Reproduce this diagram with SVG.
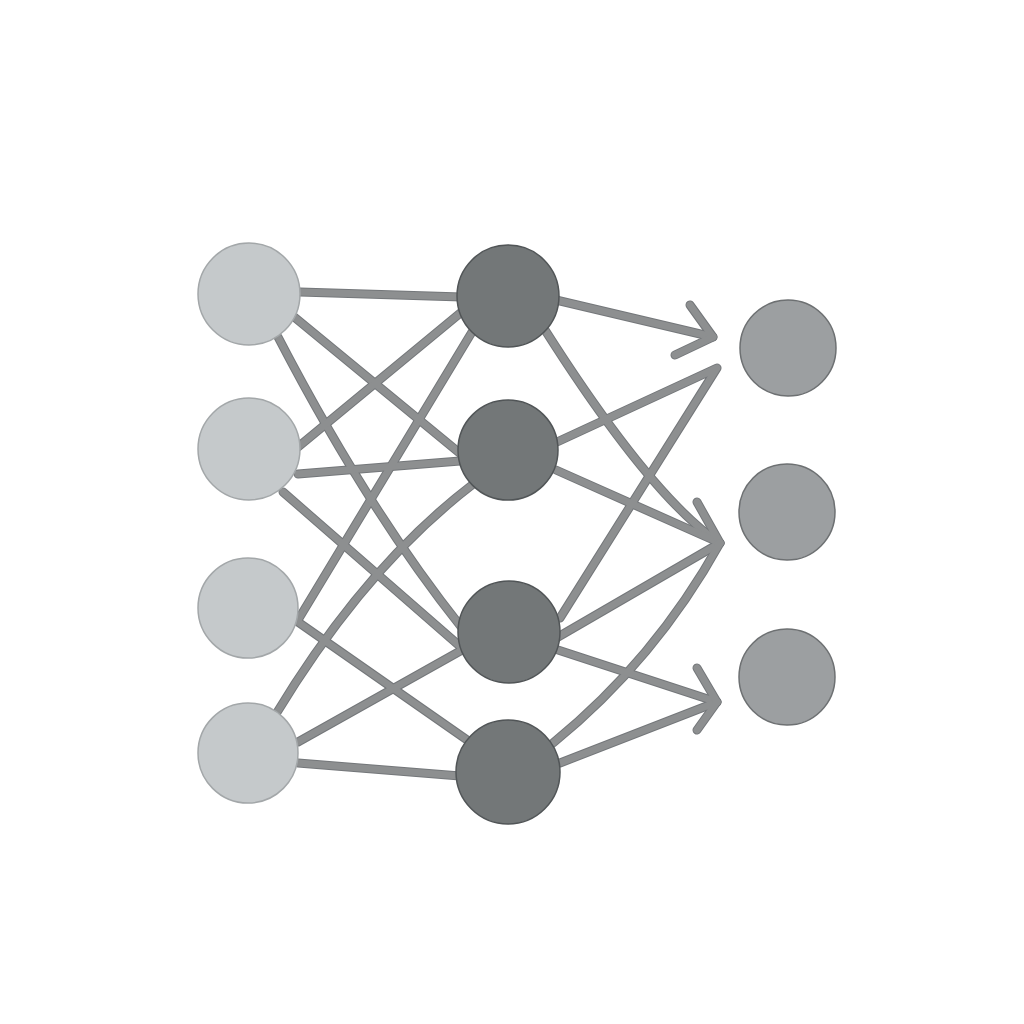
<svg xmlns="http://www.w3.org/2000/svg" xmlns:xlink="http://www.w3.org/1999/xlink" width="1024" height="1024" viewBox="0 0 1024 1024">
<style>
.edge-o{fill:none;stroke:#74777a;stroke-width:9;stroke-linecap:round;stroke-linejoin:round}
.edge-i{fill:none;stroke:#8d8f90;stroke-width:7;stroke-linecap:round;stroke-linejoin:round}
.in{fill:#c5c9cb;stroke:#a3a7a9;stroke-width:1.5}
.hid{fill:#737778;stroke:#515557;stroke-width:1.5}
.out{fill:#9c9fa1;stroke:#6d7072;stroke-width:1.5}
</style>
<defs>
<path id="e1" d="M300,292 L462,297"/>
<path id="e2" d="M293,316 L462,455"/>
<path id="e3" d="M278,337 Q368,510 462,628"/>
<path id="e4" d="M298,447 L464,310"/>
<path id="e5" d="M298,474 L460,461"/>
<path id="e6" d="M283,492 L462,648"/>
<path id="e7" d="M298,620 L472,332"/>
<path id="e8" d="M298,622 L470,742"/>
<path id="e9" d="M276,714 Q365,567 472,485"/>
<path id="e10" d="M298,742 L462,650"/>
<path id="e11" d="M298,763 L460,776"/>
<path id="e12" d="M556,300 L713,337"/>
<path id="e13" d="M690,305 L713,337 L675,355"/>
<path id="e14" d="M545,330 Q650,495 718,542"/>
<path id="e15" d="M557,442 L717,368 L560,618"/>
<path id="e16" d="M556,470 L720,543"/>
<path id="e17" d="M697,502 L720,543"/>
<path id="e18" d="M558,637 L720,543"/>
<path id="e19" d="M553,743 Q655,660 720,543"/>
<path id="e20" d="M558,650 L717,702"/>
<path id="e21" d="M560,763 L717,702"/>
<path id="e22" d="M697,668 L717,702 L697,730"/>
</defs>
<rect width="1024" height="1024" fill="#ffffff"/>
<g id="connectors">
<g class="edge-o">
<use xlink:href="#e1"/><use xlink:href="#e2"/><use xlink:href="#e3"/><use xlink:href="#e4"/><use xlink:href="#e5"/><use xlink:href="#e6"/><use xlink:href="#e7"/><use xlink:href="#e8"/><use xlink:href="#e9"/><use xlink:href="#e10"/><use xlink:href="#e11"/><use xlink:href="#e12"/><use xlink:href="#e13"/><use xlink:href="#e14"/><use xlink:href="#e15"/><use xlink:href="#e16"/><use xlink:href="#e17"/><use xlink:href="#e18"/><use xlink:href="#e19"/><use xlink:href="#e20"/><use xlink:href="#e21"/><use xlink:href="#e22"/>
</g>
<g class="edge-i">
<use xlink:href="#e1"/><use xlink:href="#e2"/><use xlink:href="#e3"/><use xlink:href="#e4"/><use xlink:href="#e5"/><use xlink:href="#e6"/><use xlink:href="#e7"/><use xlink:href="#e8"/><use xlink:href="#e9"/><use xlink:href="#e10"/><use xlink:href="#e11"/><use xlink:href="#e12"/><use xlink:href="#e13"/><use xlink:href="#e14"/><use xlink:href="#e15"/><use xlink:href="#e16"/><use xlink:href="#e17"/><use xlink:href="#e18"/><use xlink:href="#e19"/><use xlink:href="#e20"/><use xlink:href="#e21"/><use xlink:href="#e22"/>
</g>
</g>
<g id="in1"><circle class="in" cx="249" cy="294" r="51"/></g>
<g id="in2"><circle class="in" cx="249" cy="449" r="51"/></g>
<g id="in3"><circle class="in" cx="248" cy="608" r="50"/></g>
<g id="in4"><circle class="in" cx="248" cy="753" r="50"/></g>
<g id="hid1"><circle class="hid" cx="508" cy="296" r="51"/></g>
<g id="hid2"><circle class="hid" cx="508" cy="450" r="50"/></g>
<g id="hid3"><circle class="hid" cx="509" cy="632" r="51"/></g>
<g id="hid4"><circle class="hid" cx="508" cy="772" r="52"/></g>
<g id="out1"><circle class="out" cx="788" cy="348" r="48"/></g>
<g id="out2"><circle class="out" cx="787" cy="512" r="48"/></g>
<g id="out3"><circle class="out" cx="787" cy="677" r="48"/></g>
</svg>
